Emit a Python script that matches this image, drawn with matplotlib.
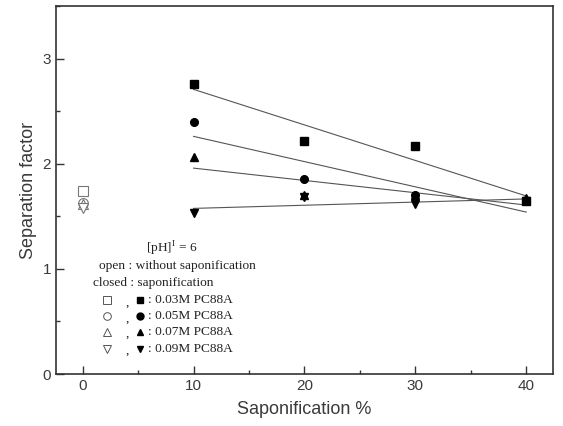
import numpy as np
import matplotlib
matplotlib.use("Agg")
import matplotlib.pyplot as plt
from matplotlib.ticker import MultipleLocator

plt.rcParams['font.family'] = ['Liberation Sans', 'DejaVu Sans']
plt.rcParams['mathtext.fontset'] = 'custom'
plt.rcParams['mathtext.rm'] = 'Liberation Serif'

# saponification % for the closed symbols
sapon = [10, 20, 30, 40]
conc_labels = ["0.03M PC88A", "0.05M PC88A", "0.07M PC88A", "0.09M PC88A"]
markers = ["s", "o", "^", "v"]

# separation factor, with saponification
sf_sapon = [
    [2.76, 2.22, 2.17, 1.65],
    [2.40, 1.85, 1.70, 1.65],
    [2.06, 1.70, 1.70, 1.67],
    [1.53, 1.68, 1.62, 1.65],
]
# separation factor, without saponification (0 %)
sf_open = [1.74, 1.63, 1.62, 1.58]

TXT = "#3a3a3a"

fig = plt.figure(figsize=(5.63, 4.26), dpi=100)
ax = fig.add_axes([0.0995, 0.122, 0.8825, 0.864])

for m, ys, y0 in zip(markers, sf_sapon, sf_open):
    k, b = np.polyfit(sapon, ys, 1)
    xs = np.array([sapon[0], sapon[-1]])
    ax.plot(xs, k * xs + b, color="#555555", lw=0.8, zorder=2)
    ax.plot(sapon, ys, m, color="black", ms=5.5, ls="none", zorder=3)
    ax.plot([0], [y0], m, mfc="white", mec="#777777", mew=0.8, ms=7, ls="none", zorder=3)

ax.set_xlim(-2.4, 42.4)
ax.set_ylim(0, 3.5)
ax.xaxis.set_major_locator(MultipleLocator(10))
ax.xaxis.set_minor_locator(MultipleLocator(5))
ax.yaxis.set_major_locator(MultipleLocator(1))
ax.yaxis.set_minor_locator(MultipleLocator(0.5))
ax.tick_params(which="both", direction="in", colors="#333333", labelcolor=TXT,
               labelsize=11, width=1)
ax.tick_params(which="major", length=6)
ax.tick_params(which="minor", length=3)
for s in ax.spines.values():
    s.set_color("#333333")
    s.set_linewidth(1.2)

ax.set_xlabel("Saponification %", fontsize=13, color=TXT, labelpad=6)
ax.set_ylabel("Separation factor", fontsize=13, color=TXT, labelpad=4)

# legend block drawn as text
serif = dict(family="Liberation Serif", fontsize=9.6, color="#222222",
             transform=ax.transData, va="center")
ax.text(8.0, 1.19, r"[pH]$^{\rm I}$ = 6", ha="center", **serif)
ax.text(1.5, 1.03, "open : without saponification", ha="left", **serif)
ax.text(0.9, 0.87, "closed : saponification", ha="left", **serif)
row_y = [0.70, 0.55, 0.40, 0.24]
for m, lab, yy in zip(markers, conc_labels, row_y):
    ax.plot([2.2], [yy], m, mfc="white", mec="#555555", mew=0.7, ms=5.5, clip_on=False)
    ax.text(4.0, yy - 0.02, ",", ha="center", **serif)
    ax.plot([5.2], [yy], m, color="black", ms=5, clip_on=False)
    ax.text(5.9, yy, ": " + lab, ha="left", **serif)

fig.savefig("out.png", dpi=100)
